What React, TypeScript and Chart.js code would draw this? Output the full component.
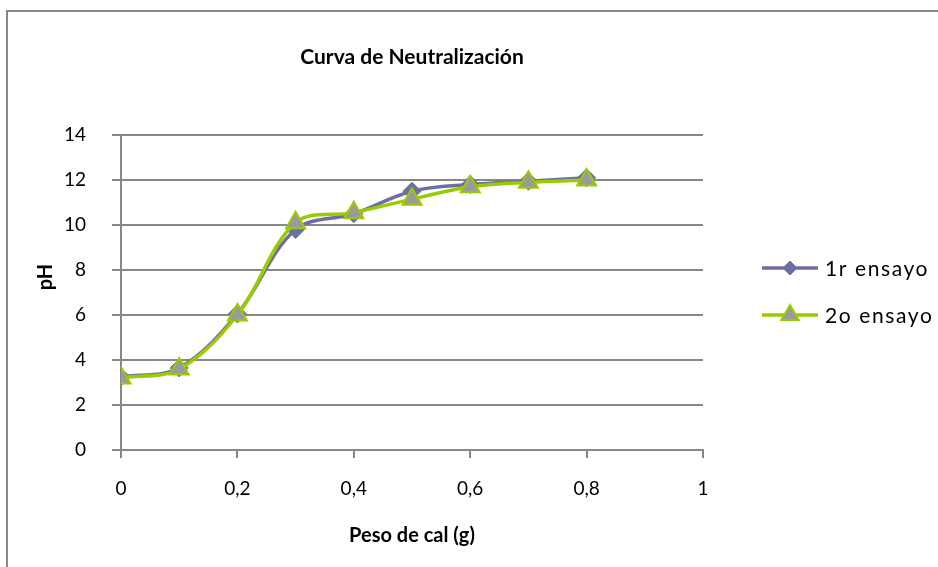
import React, { useEffect, useRef } from "react";
import { Chart, registerables } from "chart.js";

Chart.register(...registerables);

const FONT = "Lato, 'Open Sans', sans-serif";

const chartTitle = "Curva de Neutralización";
const xTitle = "Peso de cal (g)";
const yTitle = "pH";

const pesoCal = [0, 0.1, 0.2, 0.3, 0.4, 0.5, 0.6, 0.7, 0.8];
const ensayo1 = [3.25, 3.65, 6.05, 9.8, 10.5, 11.5, 11.8, 11.95, 12.1];
const ensayo2 = [3.2, 3.6, 6.0, 10.1, 10.55, 11.15, 11.7, 11.9, 12.0];
const seriesLabels = ["1r ensayo", "2o ensayo"];

const xTicks = [0, 0.2, 0.4, 0.6, 0.8, 1];
const yTicks = [0, 2, 4, 6, 8, 10, 12, 14];

const PURPLE = "#6E6EA6";
const GREEN = "#99CC00";
const GRAY_FILL = "#9A9A9A";
const GRID = "#878787";

const decorPlugin = {
  id: "decor",
  beforeDraw(chart: any) {
    const ctx = chart.ctx;
    ctx.save();
    ctx.fillStyle = "#ffffff";
    ctx.fillRect(0, 0, chart.width, chart.height);
    ctx.strokeStyle = "#888888";
    ctx.lineWidth = 2;
    ctx.beginPath();
    ctx.moveTo(7, chart.height + 5);
    ctx.lineTo(7, 11);
    ctx.lineTo(chart.width + 5, 11);
    ctx.stroke();
    ctx.restore();
  },
  afterDraw(chart: any) {
    const ctx = chart.ctx;
    ctx.save();
    // y axis title
    ctx.translate(46, 277);
    ctx.rotate(-Math.PI / 2);
    ctx.font = `bold 20px ${FONT}`;
    ctx.fillStyle = "#000";
    ctx.textAlign = "center";
    ctx.textBaseline = "middle";
    ctx.fillText(yTitle, 0, 0);
    ctx.restore();

    // legend
    const items = chart.data.datasets
      .map((ds: any, i: number) => ({ ds, i }))
      .sort((a: any, b: any) => a.ds.legendIndex - b.ds.legendIndex);
    items.forEach(({ ds }: any, k: number) => {
      const y = 268 + k * 47;
      ctx.save();
      ctx.strokeStyle = ds.borderColor;
      ctx.lineWidth = 3.5;
      ctx.beginPath();
      ctx.moveTo(762, y);
      ctx.lineTo(818, y);
      ctx.stroke();
      ctx.fillStyle = ds.pointBackgroundColor;
      ctx.strokeStyle = ds.pointBorderColor;
      ctx.lineWidth = ds.pointBorderWidth;
      const r = ds.pointStyle === "triangle" ? 10 : 7;
      ctx.beginPath();
      if (ds.pointStyle === "triangle") {
        ctx.moveTo(790, y - r);
        ctx.lineTo(790 + r * 0.866, y + r * 0.5);
        ctx.lineTo(790 - r * 0.866, y + r * 0.5);
      } else {
        ctx.moveTo(790 - r, y);
        ctx.lineTo(790, y - r);
        ctx.lineTo(790 + r, y);
        ctx.lineTo(790, y + r);
      }
      ctx.closePath();
      ctx.fill();
      ctx.stroke();
      ctx.fillStyle = "#000";
      ctx.font = `21px ${FONT}`;
      (ctx as any).letterSpacing = "1.6px";
      ctx.textAlign = "left";
      ctx.textBaseline = "middle";
      ctx.fillText(ds.label, 825, y + 1);
      ctx.restore();
    });
  },
};

export default function App() {
  const ref = useRef<HTMLCanvasElement>(null);

  useEffect(() => {
    if (!ref.current) return;
    const chart = new Chart(ref.current, {
      type: "line",
      data: {
        datasets: [
          {
            label: seriesLabels[1],
            legendIndex: 1,
            data: pesoCal.map((x, i) => ({ x, y: ensayo2[i] })),
            borderColor: GREEN,
            borderWidth: 3.5,
            pointStyle: "triangle",
            pointRadius: 11,
            pointBackgroundColor: GRAY_FILL,
            pointBorderColor: GREEN,
            pointBorderWidth: 2,
            tension: 0.35,
            order: 0,
          } as any,
          {
            label: seriesLabels[0],
            legendIndex: 0,
            data: pesoCal.map((x, i) => ({ x, y: ensayo1[i] })),
            borderColor: PURPLE,
            borderWidth: 3.5,
            pointStyle: "rectRot",
            pointRadius: 9,
            pointBackgroundColor: PURPLE,
            pointBorderColor: PURPLE,
            pointBorderWidth: 1,
            tension: 0.35,
            order: 1,
          } as any,
        ],
      },
      options: {
        animation: false,
        responsive: false,
        layout: { padding: { left: 0, right: 235, top: 0, bottom: 0 } },
        plugins: {
          legend: { display: false },
          tooltip: { enabled: false },
          title: {
            display: true,
            text: chartTitle,
            fullSize: false,
            color: "#000",
            font: { family: FONT, size: 21, weight: "bold", lineHeight: 1.2 },
            padding: { top: 44.4, bottom: 65.4 },
          },
        },
        scales: {
          x: {
            type: "linear",
            min: 0,
            max: 1,
            afterBuildTicks: (s: any) => {
              s.ticks = xTicks.map((v) => ({ value: v }));
            },
            afterFit: (s: any) => {
              s.height = 117;
            },
            ticks: {
              color: "#000",
              font: { family: FONT, size: 19 },
              padding: 19,
              maxRotation: 0,
              autoSkip: false,
              callback: (v: any) => String(v).replace(".", ","),
            },
            grid: {
              drawOnChartArea: false,
              drawTicks: true,
              tickLength: 8,
              color: GRID,
              lineWidth: 2,
            },
            border: { display: true, color: GRID, width: 2 },
            title: {
              display: true,
              text: xTitle,
              color: "#000",
              font: { family: FONT, size: 20, weight: "bold" },
              padding: { top: 4, bottom: 19 },
            },
          },
          y: {
            type: "linear",
            min: 0,
            max: 14,
            afterBuildTicks: (s: any) => {
              s.ticks = yTicks.map((v) => ({ value: v }));
            },
            afterFit: (s: any) => {
              s.width = 121;
            },
            ticks: {
              color: "#000",
              font: { family: FONT, size: 19 },
              padding: 26,
            },
            grid: {
              color: GRID,
              lineWidth: 2,
              tickLength: 9,
            },
            border: { display: true, color: GRID, width: 2 },
          },
        },
      },
      plugins: [decorPlugin],
    } as any);
    return () => chart.destroy();
  }, []);

  return (
    <div style={{ position: "absolute", left: 0, top: 0, width: 938, height: 567 }}>
      <canvas ref={ref} width={938} height={567} />
    </div>
  );
}
